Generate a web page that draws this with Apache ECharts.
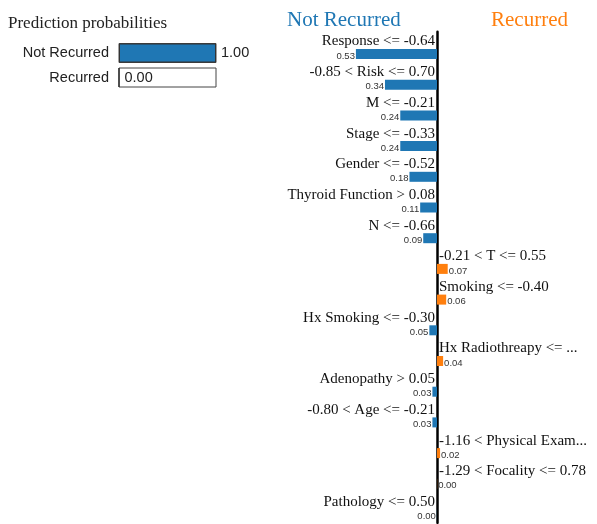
<!DOCTYPE html>
<html>
<head>
<meta charset="utf-8">
<script src="https://cdn.jsdelivr.net/npm/echarts@6/dist/echarts.min.js"></script>
<style>html,body{margin:0;padding:0;background:#fff}#c{width:597px;height:524px}</style>
</head>
<body>
<div id="c"></div>
<script>
const probClasses = ['Not Recurred', 'Recurred'];
const probValues = [1.00, 0.00];
const features = [
  'Response <= -0.64', '-0.85 < Risk <= 0.70', 'M <= -0.21', 'Stage <= -0.33',
  'Gender <= -0.52', 'Thyroid Function > 0.08', 'N <= -0.66', '-0.21 < T <= 0.55',
  'Smoking <= -0.40', 'Hx Smoking <= -0.30', 'Hx Radiothreapy <= ...', 'Adenopathy > 0.05',
  '-0.80 < Age <= -0.21', '-1.16 < Physical Exam...', '-1.29 < Focality <= 0.78', 'Pathology <= 0.50'
];
// negative = supports "Not Recurred", positive = supports "Recurred"
const weights = [-0.53, -0.34, -0.24, -0.24, -0.18, -0.11, -0.09, 0.07,
  0.06, -0.05, 0.04, -0.03, -0.03, 0.02, 0.001, -0.001];

const BLUE = '#1f77b4', ORANGE = '#ff7f0e';
const SERIF = '"Liberation Serif", "Times New Roman", serif';
const SANS = '"Liberation Sans", Arial, sans-serif';

const chart = echarts.init(document.getElementById('c'));
chart.setOption({
  animation: false,
  title: [
    {text: 'Prediction probabilities', left: 3, top: 10, textStyle: {fontFamily: SERIF, fontSize: 17, fontWeight: 'normal', color: '#222'}},
    {text: 'Not Recurred', left: 282, top: 5, textStyle: {fontFamily: SERIF, fontSize: 21, fontWeight: 'normal', color: BLUE}},
    {text: 'Recurred', left: 486, top: 5, textStyle: {fontFamily: SERIF, fontSize: 21, fontWeight: 'normal', color: ORANGE}}
  ],
  grid: [
    {left: 284, right: 7, top: 31.65, height: 491.2, containLabel: false},
    {left: 119, width: 97, top: 40.75, height: 49, containLabel: false}
  ],
  xAxis: [
    {gridIndex: 0, type: 'value', min: -1, max: 1, show: false},
    {gridIndex: 1, type: 'value', min: 0, max: 1, show: false}
  ],
  yAxis: [
    {gridIndex: 0, type: 'category', inverse: true, data: features,
     axisLine: {show: true, onZero: true, lineStyle: {color: '#000', width: 2.5}},
     axisTick: {show: false}, axisLabel: {show: false}, splitLine: {show: false}},
    {gridIndex: 1, type: 'category', inverse: true, data: probClasses,
     axisLine: {show: false}, axisTick: {show: false}, splitLine: {show: false},
     axisLabel: {fontFamily: SANS, fontSize: 14.5, color: '#222', margin: 10}}
  ],
  series: [
    {
      type: 'bar', xAxisIndex: 1, yAxisIndex: 1, barWidth: 19,
      data: probValues.map((v, i) => ({value: v, itemStyle: {color: i === 0 ? BLUE : ORANGE}})),
      itemStyle: {borderColor: '#333', borderWidth: 1},
      showBackground: true,
      backgroundStyle: {color: 'rgba(255,255,255,0)', borderColor: '#444', borderWidth: 1},
      label: {show: true, position: 'right', distance: 5, fontFamily: SANS, fontSize: 14.5, color: '#222',
              formatter: p => p.value.toFixed(2)}
    },
    {
      type: 'custom', xAxisIndex: 0, yAxisIndex: 0,
      data: weights.map((w, i) => [w, i]),
      encode: {x: 0, y: 1},
      renderItem: function (params, api) {
        const w = api.value(0), c = api.value(1);
        const p0 = api.coord([0, c]);
        const p1 = api.coord([w, c]);
        const neg = w < 0;
        const y0 = p0[1];
        const wid = Math.abs(p1[0] - p0[0]);
        const valText = Math.abs(w).toFixed(2);
        return {
          type: 'group',
          children: [
            {type: 'rect', shape: {x: neg ? p1[0] : p0[0], y: y0 + 2, width: wid, height: 10},
             style: {fill: neg ? BLUE : ORANGE}},
            {type: 'text', x: neg ? p1[0] - 1 : p1[0] + 1, y: y0 + 9,
             style: {text: valText, fontFamily: SANS, fontSize: 9.5, fill: '#333',
                     align: neg ? 'right' : 'left', verticalAlign: 'middle'}},
            {type: 'text', x: neg ? p0[0] - 2 : p0[0] + 2, y: y0 - 5.5,
             style: {text: features[c], fontFamily: SERIF, fontSize: 15, fill: '#111',
                     align: neg ? 'right' : 'left', verticalAlign: 'middle'}}
          ]
        };
      }
    }
  ]
});
</script>
</body>
</html>
